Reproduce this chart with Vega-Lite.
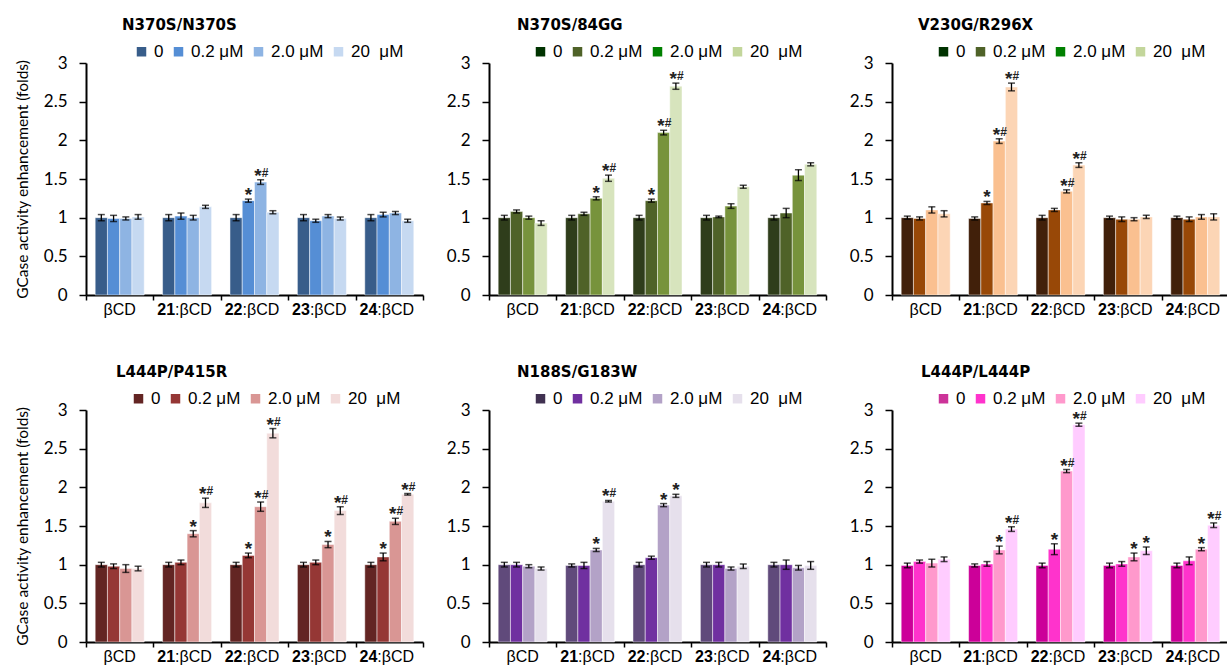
{
"$schema": "https://vega.github.io/schema/vega-lite/v6.json",
"background": "white",
"padding": {"left": 15, "top": 18, "right": 0, "bottom": 0},
"datasets": {
"bars": [
{"p":"N370S/N370S","c":"βCD","k":"0","v":1.00,"lo":0.96,"hi":1.04},
{"p":"N370S/N370S","c":"βCD","k":"0.2","v":0.99,"lo":0.95,"hi":1.03},
{"p":"N370S/N370S","c":"βCD","k":"2.0","v":0.99,"lo":0.97,"hi":1.01},
{"p":"N370S/N370S","c":"βCD","k":"20","v":1.01,"lo":0.98,"hi":1.04},
{"p":"N370S/N370S","c":"21","k":"0","v":1.00,"lo":0.96,"hi":1.04},
{"p":"N370S/N370S","c":"21","k":"0.2","v":1.02,"lo":0.98,"hi":1.06},
{"p":"N370S/N370S","c":"21","k":"2.0","v":1.00,"lo":0.97,"hi":1.03},
{"p":"N370S/N370S","c":"21","k":"20","v":1.14,"lo":1.12,"hi":1.16},
{"p":"N370S/N370S","c":"22","k":"0","v":1.00,"lo":0.96,"hi":1.04},
{"p":"N370S/N370S","c":"22","k":"0.2","v":1.22,"lo":1.20,"hi":1.24,"a":"*"},
{"p":"N370S/N370S","c":"22","k":"2.0","v":1.46,"lo":1.43,"hi":1.49,"a":"*","h":"#"},
{"p":"N370S/N370S","c":"22","k":"20","v":1.07,"lo":1.05,"hi":1.09},
{"p":"N370S/N370S","c":"23","k":"0","v":1.00,"lo":0.96,"hi":1.04},
{"p":"N370S/N370S","c":"23","k":"0.2","v":0.96,"lo":0.94,"hi":0.98},
{"p":"N370S/N370S","c":"23","k":"2.0","v":1.02,"lo":1.00,"hi":1.04},
{"p":"N370S/N370S","c":"23","k":"20","v":0.99,"lo":0.97,"hi":1.01},
{"p":"N370S/N370S","c":"24","k":"0","v":1.00,"lo":0.96,"hi":1.04},
{"p":"N370S/N370S","c":"24","k":"0.2","v":1.04,"lo":1.01,"hi":1.07},
{"p":"N370S/N370S","c":"24","k":"2.0","v":1.06,"lo":1.04,"hi":1.08},
{"p":"N370S/N370S","c":"24","k":"20","v":0.96,"lo":0.94,"hi":0.98},

{"p":"N370S/84GG","c":"βCD","k":"0","v":1.00,"lo":0.97,"hi":1.03},
{"p":"N370S/84GG","c":"βCD","k":"0.2","v":1.08,"lo":1.06,"hi":1.10},
{"p":"N370S/84GG","c":"βCD","k":"2.0","v":1.00,"lo":0.98,"hi":1.02},
{"p":"N370S/84GG","c":"βCD","k":"20","v":0.93,"lo":0.90,"hi":0.96},
{"p":"N370S/84GG","c":"21","k":"0","v":1.00,"lo":0.97,"hi":1.03},
{"p":"N370S/84GG","c":"21","k":"0.2","v":1.05,"lo":1.03,"hi":1.07},
{"p":"N370S/84GG","c":"21","k":"2.0","v":1.25,"lo":1.23,"hi":1.27,"a":"*"},
{"p":"N370S/84GG","c":"21","k":"20","v":1.51,"lo":1.47,"hi":1.55,"a":"*","h":"#"},
{"p":"N370S/84GG","c":"22","k":"0","v":1.00,"lo":0.97,"hi":1.03},
{"p":"N370S/84GG","c":"22","k":"0.2","v":1.22,"lo":1.20,"hi":1.24,"a":"*"},
{"p":"N370S/84GG","c":"22","k":"2.0","v":2.10,"lo":2.07,"hi":2.13,"a":"*","h":"#"},
{"p":"N370S/84GG","c":"22","k":"20","v":2.70,"lo":2.66,"hi":2.74,"a":"*","h":"#"},
{"p":"N370S/84GG","c":"23","k":"0","v":1.00,"lo":0.97,"hi":1.03},
{"p":"N370S/84GG","c":"23","k":"0.2","v":1.01,"lo":1.00,"hi":1.02},
{"p":"N370S/84GG","c":"23","k":"2.0","v":1.15,"lo":1.12,"hi":1.18},
{"p":"N370S/84GG","c":"23","k":"20","v":1.40,"lo":1.38,"hi":1.42},
{"p":"N370S/84GG","c":"24","k":"0","v":1.00,"lo":0.97,"hi":1.03},
{"p":"N370S/84GG","c":"24","k":"0.2","v":1.06,"lo":1.00,"hi":1.12},
{"p":"N370S/84GG","c":"24","k":"2.0","v":1.55,"lo":1.48,"hi":1.62},
{"p":"N370S/84GG","c":"24","k":"20","v":1.69,"lo":1.67,"hi":1.71},

{"p":"V230G/R296X","c":"βCD","k":"0","v":1.00,"lo":0.98,"hi":1.02},
{"p":"V230G/R296X","c":"βCD","k":"0.2","v":0.99,"lo":0.97,"hi":1.01},
{"p":"V230G/R296X","c":"βCD","k":"2.0","v":1.10,"lo":1.06,"hi":1.14},
{"p":"V230G/R296X","c":"βCD","k":"20","v":1.05,"lo":1.01,"hi":1.09},
{"p":"V230G/R296X","c":"21","k":"0","v":0.99,"lo":0.97,"hi":1.01},
{"p":"V230G/R296X","c":"21","k":"0.2","v":1.19,"lo":1.17,"hi":1.21,"a":"*"},
{"p":"V230G/R296X","c":"21","k":"2.0","v":1.99,"lo":1.96,"hi":2.02,"a":"*","h":"#"},
{"p":"V230G/R296X","c":"21","k":"20","v":2.69,"lo":2.64,"hi":2.74,"a":"*","h":"#"},
{"p":"V230G/R296X","c":"22","k":"0","v":1.00,"lo":0.97,"hi":1.03},
{"p":"V230G/R296X","c":"22","k":"0.2","v":1.10,"lo":1.08,"hi":1.12},
{"p":"V230G/R296X","c":"22","k":"2.0","v":1.34,"lo":1.32,"hi":1.36,"a":"*","h":"#"},
{"p":"V230G/R296X","c":"22","k":"20","v":1.68,"lo":1.65,"hi":1.71,"a":"*","h":"#"},
{"p":"V230G/R296X","c":"23","k":"0","v":1.00,"lo":0.98,"hi":1.02},
{"p":"V230G/R296X","c":"23","k":"0.2","v":0.98,"lo":0.95,"hi":1.01},
{"p":"V230G/R296X","c":"23","k":"2.0","v":0.98,"lo":0.96,"hi":1.00},
{"p":"V230G/R296X","c":"23","k":"20","v":1.01,"lo":0.99,"hi":1.03},
{"p":"V230G/R296X","c":"24","k":"0","v":1.00,"lo":0.98,"hi":1.02},
{"p":"V230G/R296X","c":"24","k":"0.2","v":0.98,"lo":0.95,"hi":1.01},
{"p":"V230G/R296X","c":"24","k":"2.0","v":1.01,"lo":0.98,"hi":1.04},
{"p":"V230G/R296X","c":"24","k":"20","v":1.01,"lo":0.97,"hi":1.05},

{"p":"L444P/P415R","c":"βCD","k":"0","v":1.00,"lo":0.97,"hi":1.03},
{"p":"L444P/P415R","c":"βCD","k":"0.2","v":0.98,"lo":0.95,"hi":1.01},
{"p":"L444P/P415R","c":"βCD","k":"2.0","v":0.95,"lo":0.90,"hi":1.00},
{"p":"L444P/P415R","c":"βCD","k":"20","v":0.95,"lo":0.92,"hi":0.98},
{"p":"L444P/P415R","c":"21","k":"0","v":1.00,"lo":0.97,"hi":1.03},
{"p":"L444P/P415R","c":"21","k":"0.2","v":1.03,"lo":1.00,"hi":1.06},
{"p":"L444P/P415R","c":"21","k":"2.0","v":1.40,"lo":1.36,"hi":1.44,"a":"*"},
{"p":"L444P/P415R","c":"21","k":"20","v":1.80,"lo":1.74,"hi":1.86,"a":"*","h":"#"},
{"p":"L444P/P415R","c":"22","k":"0","v":1.00,"lo":0.97,"hi":1.03},
{"p":"L444P/P415R","c":"22","k":"0.2","v":1.12,"lo":1.09,"hi":1.15,"a":"*"},
{"p":"L444P/P415R","c":"22","k":"2.0","v":1.75,"lo":1.69,"hi":1.81,"a":"*","h":"#"},
{"p":"L444P/P415R","c":"22","k":"20","v":2.70,"lo":2.64,"hi":2.76,"a":"*","h":"#"},
{"p":"L444P/P415R","c":"23","k":"0","v":1.00,"lo":0.97,"hi":1.03},
{"p":"L444P/P415R","c":"23","k":"0.2","v":1.03,"lo":1.00,"hi":1.06},
{"p":"L444P/P415R","c":"23","k":"2.0","v":1.26,"lo":1.22,"hi":1.30,"a":"*"},
{"p":"L444P/P415R","c":"23","k":"20","v":1.70,"lo":1.65,"hi":1.75,"a":"*","h":"#"},
{"p":"L444P/P415R","c":"24","k":"0","v":1.00,"lo":0.97,"hi":1.03},
{"p":"L444P/P415R","c":"24","k":"0.2","v":1.10,"lo":1.05,"hi":1.15,"a":"*"},
{"p":"L444P/P415R","c":"24","k":"2.0","v":1.56,"lo":1.52,"hi":1.60,"a":"*","h":"#"},
{"p":"L444P/P415R","c":"24","k":"20","v":1.91,"lo":1.90,"hi":1.92,"a":"*","h":"#"},

{"p":"N188S/G183W","c":"βCD","k":"0","v":1.00,"lo":0.97,"hi":1.03},
{"p":"N188S/G183W","c":"βCD","k":"0.2","v":1.00,"lo":0.97,"hi":1.03},
{"p":"N188S/G183W","c":"βCD","k":"2.0","v":0.98,"lo":0.96,"hi":1.00},
{"p":"N188S/G183W","c":"βCD","k":"20","v":0.95,"lo":0.93,"hi":0.97},
{"p":"N188S/G183W","c":"21","k":"0","v":0.99,"lo":0.97,"hi":1.01},
{"p":"N188S/G183W","c":"21","k":"0.2","v":0.99,"lo":0.95,"hi":1.03},
{"p":"N188S/G183W","c":"21","k":"2.0","v":1.19,"lo":1.17,"hi":1.21,"a":"*"},
{"p":"N188S/G183W","c":"21","k":"20","v":1.82,"lo":1.81,"hi":1.83,"a":"*","h":"#"},
{"p":"N188S/G183W","c":"22","k":"0","v":1.00,"lo":0.97,"hi":1.03},
{"p":"N188S/G183W","c":"22","k":"0.2","v":1.09,"lo":1.07,"hi":1.11},
{"p":"N188S/G183W","c":"22","k":"2.0","v":1.77,"lo":1.75,"hi":1.79,"a":"*"},
{"p":"N188S/G183W","c":"22","k":"20","v":1.89,"lo":1.87,"hi":1.91,"a":"*"},
{"p":"N188S/G183W","c":"23","k":"0","v":1.00,"lo":0.97,"hi":1.03},
{"p":"N188S/G183W","c":"23","k":"0.2","v":1.00,"lo":0.97,"hi":1.03},
{"p":"N188S/G183W","c":"23","k":"2.0","v":0.95,"lo":0.93,"hi":0.97},
{"p":"N188S/G183W","c":"23","k":"20","v":0.98,"lo":0.95,"hi":1.01},
{"p":"N188S/G183W","c":"24","k":"0","v":1.00,"lo":0.97,"hi":1.03},
{"p":"N188S/G183W","c":"24","k":"0.2","v":1.00,"lo":0.94,"hi":1.06},
{"p":"N188S/G183W","c":"24","k":"2.0","v":0.96,"lo":0.93,"hi":0.99},
{"p":"N188S/G183W","c":"24","k":"20","v":0.99,"lo":0.94,"hi":1.04},

{"p":"L444P/L444P","c":"βCD","k":"0","v":0.99,"lo":0.96,"hi":1.02},
{"p":"L444P/L444P","c":"βCD","k":"0.2","v":1.04,"lo":1.02,"hi":1.06},
{"p":"L444P/L444P","c":"βCD","k":"2.0","v":1.02,"lo":0.97,"hi":1.07},
{"p":"L444P/L444P","c":"βCD","k":"20","v":1.07,"lo":1.04,"hi":1.10},
{"p":"L444P/L444P","c":"21","k":"0","v":0.99,"lo":0.97,"hi":1.01},
{"p":"L444P/L444P","c":"21","k":"0.2","v":1.01,"lo":0.98,"hi":1.04},
{"p":"L444P/L444P","c":"21","k":"2.0","v":1.19,"lo":1.14,"hi":1.24,"a":"*"},
{"p":"L444P/L444P","c":"21","k":"20","v":1.46,"lo":1.43,"hi":1.49,"a":"*","h":"#"},
{"p":"L444P/L444P","c":"22","k":"0","v":0.99,"lo":0.96,"hi":1.02},
{"p":"L444P/L444P","c":"22","k":"0.2","v":1.20,"lo":1.13,"hi":1.27,"a":"*"},
{"p":"L444P/L444P","c":"22","k":"2.0","v":2.21,"lo":2.19,"hi":2.23,"a":"*","h":"#"},
{"p":"L444P/L444P","c":"22","k":"20","v":2.81,"lo":2.79,"hi":2.83,"a":"*","h":"#"},
{"p":"L444P/L444P","c":"23","k":"0","v":0.99,"lo":0.96,"hi":1.02},
{"p":"L444P/L444P","c":"23","k":"0.2","v":1.01,"lo":0.98,"hi":1.04},
{"p":"L444P/L444P","c":"23","k":"2.0","v":1.10,"lo":1.05,"hi":1.15,"a":"*"},
{"p":"L444P/L444P","c":"23","k":"20","v":1.18,"lo":1.13,"hi":1.23,"a":"*"},
{"p":"L444P/L444P","c":"24","k":"0","v":0.99,"lo":0.96,"hi":1.02},
{"p":"L444P/L444P","c":"24","k":"0.2","v":1.05,"lo":1.00,"hi":1.10},
{"p":"L444P/L444P","c":"24","k":"2.0","v":1.20,"lo":1.18,"hi":1.22,"a":"*"},
{"p":"L444P/L444P","c":"24","k":"20","v":1.51,"lo":1.48,"hi":1.54,"a":"*","h":"#"}
],
"labs": [
{"c":"βCD","n":"","t":"βCD","z":0},
{"c":"21","n":"21","t":":βCD","z":0},
{"c":"22","n":"22","t":":βCD","z":0},
{"c":"23","n":"23","t":":βCD","z":0},
{"c":"24","n":"24","t":":βCD","z":0}
]
},
"data": {"name": "bars"},
"columns": 3,
"align": "each",
"spacing": {"row": 47, "column": 22},
"resolve": {"scale": {"color": "independent", "fill": "independent"}, "legend": {"color": "independent", "fill": "independent"}},
"concat": [
{
"title": {"text": "N370S/N370S", "dx": 36},
"width": 337, "height": 232,
"transform": [{"filter": "datum.p == 'N370S/N370S'"}],
"encoding": {"x": {"field": "c", "type": "nominal", "sort": ["βCD","21","22","23","24"], "scale": {"paddingInner": 0, "paddingOuter": 0}, "axis": {"labels": false, "title": null, "tickBand": "extent"}}},
"layer": [
{"mark": {"type": "bar", "stroke": "#ffffff", "strokeOpacity": 0.6, "strokeWidth": 0.8},
 "encoding": {"xOffset": {"field": "k", "type": "nominal", "sort": ["0","0.2","2.0","20"], "scale": {"paddingInner": 0, "paddingOuter": 0.75}},
  "y": {"field": "v", "type": "quantitative", "title": "GCase activity enhancement (folds)", "scale": {"domain": [0, 3]}, "axis": {"values": [0,0.5,1,1.5,2,2.5,3], "format": "~g", "labelOverlap": false}},
  "fill": {"field": "k", "type": "nominal", "scale": {"range": ["#385d8a","#558ed5","#8eb4e3","#c6d9f1"]}, "legend": null}}},
{"mark": {"type": "square", "opacity": 0},
 "encoding": {"xOffset": {"field": "k", "type": "nominal", "sort": ["0","0.2","2.0","20"]},
  "y": {"field": "v", "type": "quantitative", "title": "GCase activity enhancement (folds)", "axis": {"values": [0,0.5,1,1.5,2,2.5,3], "format": "~g", "labelOverlap": false}},
  "color": {"field": "k", "type": "nominal", "scale": {"domain": ["0","0.2","2.0","20"], "range": ["#385d8a","#558ed5","#8eb4e3","#c6d9f1"]},
   "legend": {"title": null, "orient": "none", "legendX": 47, "legendY": -20, "direction": "horizontal", "labelExpr": "datum.label == '0' ? '0' : datum.label == '20' ? '20\u00a0 μM' : datum.label + ' μM'"}}}},
{"mark": {"type": "rule", "color": "#000", "strokeWidth": 1.3},
 "encoding": {"xOffset": {"field": "k", "type": "nominal", "sort": ["0","0.2","2.0","20"]}, "y": {"field": "lo", "type": "quantitative", "title": "GCase activity enhancement (folds)", "axis": {"values": [0,0.5,1,1.5,2,2.5,3], "format": "~g", "labelOverlap": false}}, "y2": {"field": "hi"}}},
{"mark": {"type": "tick", "color": "#000", "size": 7, "thickness": 1.5},
 "encoding": {"xOffset": {"field": "k", "type": "nominal", "sort": ["0","0.2","2.0","20"]}, "y": {"field": "lo", "type": "quantitative", "title": "GCase activity enhancement (folds)", "axis": {"values": [0,0.5,1,1.5,2,2.5,3], "format": "~g", "labelOverlap": false}}}},
{"mark": {"type": "tick", "color": "#000", "size": 7, "thickness": 1.5},
 "encoding": {"xOffset": {"field": "k", "type": "nominal", "sort": ["0","0.2","2.0","20"]}, "y": {"field": "hi", "type": "quantitative", "title": "GCase activity enhancement (folds)", "axis": {"values": [0,0.5,1,1.5,2,2.5,3], "format": "~g", "labelOverlap": false}}}},
{"transform": [{"filter": "datum.a && !datum.h"}],
 "mark": {"type": "text", "font": "Liberation Sans", "fontWeight": "bold", "fontSize": 19, "baseline": "alphabetic", "dy": 2, "color": "#222"},
 "encoding": {"xOffset": {"field": "k", "type": "nominal", "sort": ["0","0.2","2.0","20"]}, "y": {"field": "hi", "type": "quantitative", "title": "GCase activity enhancement (folds)", "axis": {"values": [0,0.5,1,1.5,2,2.5,3], "format": "~g", "labelOverlap": false}}, "text": {"field": "a"}}},
{"transform": [{"filter": "datum.h"}],
 "mark": {"type": "text", "font": "Liberation Sans", "fontWeight": "bold", "fontSize": 19, "baseline": "alphabetic", "align": "right", "dx": 1, "dy": 2, "color": "#222"},
 "encoding": {"xOffset": {"field": "k", "type": "nominal", "sort": ["0","0.2","2.0","20"]}, "y": {"field": "hi", "type": "quantitative", "title": "GCase activity enhancement (folds)", "axis": {"values": [0,0.5,1,1.5,2,2.5,3], "format": "~g", "labelOverlap": false}}, "text": {"field": "a"}}},
{"transform": [{"filter": "datum.h"}],
 "mark": {"type": "text", "font": "Liberation Sans", "fontWeight": "bold", "fontSize": 12, "baseline": "alphabetic", "align": "left", "dx": 1, "dy": -3, "color": "#222"},
 "encoding": {"xOffset": {"field": "k", "type": "nominal", "sort": ["0","0.2","2.0","20"]}, "y": {"field": "hi", "type": "quantitative", "title": "GCase activity enhancement (folds)", "axis": {"values": [0,0.5,1,1.5,2,2.5,3], "format": "~g", "labelOverlap": false}}, "text": {"field": "h"}}},
{"data": {"name": "labs"}, "transform": [{"filter": "datum.n == ''"}],
 "mark": {"type": "text", "font": "Liberation Sans", "fontSize": 16, "baseline": "middle", "dy": 15, "color": "#000"},
 "encoding": {"y": {"field": "z", "type": "quantitative", "title": "GCase activity enhancement (folds)", "axis": {"values": [0,0.5,1,1.5,2,2.5,3], "format": "~g", "labelOverlap": false}}, "text": {"field": "t"}}},
{"data": {"name": "labs"}, "transform": [{"filter": "datum.n != ''"}],
 "mark": {"type": "text", "font": "Liberation Sans", "fontSize": 16, "fontWeight": "bold", "align": "right", "baseline": "middle", "dx": -12, "dy": 15, "color": "#000"},
 "encoding": {"y": {"field": "z", "type": "quantitative", "title": "GCase activity enhancement (folds)", "axis": {"values": [0,0.5,1,1.5,2,2.5,3], "format": "~g", "labelOverlap": false}}, "text": {"field": "n"}}},
{"data": {"name": "labs"}, "transform": [{"filter": "datum.n != ''"}],
 "mark": {"type": "text", "font": "Liberation Sans", "fontSize": 16, "align": "left", "baseline": "middle", "dx": -12, "dy": 15, "color": "#000"},
 "encoding": {"y": {"field": "z", "type": "quantitative", "title": "GCase activity enhancement (folds)", "axis": {"values": [0,0.5,1,1.5,2,2.5,3], "format": "~g", "labelOverlap": false}}, "text": {"field": "t"}}}
]
},
{
"title": {"text": "N370S/84GG", "dx": 28},
"width": 337, "height": 232,
"transform": [{"filter": "datum.p == 'N370S/84GG'"}],
"encoding": {"x": {"field": "c", "type": "nominal", "sort": ["βCD","21","22","23","24"], "scale": {"paddingInner": 0, "paddingOuter": 0}, "axis": {"labels": false, "title": null, "tickBand": "extent"}}},
"layer": [
{"mark": {"type": "bar", "stroke": "#ffffff", "strokeOpacity": 0.6, "strokeWidth": 0.8},
 "encoding": {"xOffset": {"field": "k", "type": "nominal", "sort": ["0","0.2","2.0","20"], "scale": {"paddingInner": 0, "paddingOuter": 0.75}},
  "y": {"field": "v", "type": "quantitative", "title": null, "scale": {"domain": [0, 3]}, "axis": {"values": [0,0.5,1,1.5,2,2.5,3], "format": "~g", "labelOverlap": false}},
  "fill": {"field": "k", "type": "nominal", "scale": {"range": ["#2f3d1b","#4f6228","#77933c","#d7e4bd"]}, "legend": null}}},
{"mark": {"type": "square", "opacity": 0},
 "encoding": {"xOffset": {"field": "k", "type": "nominal", "sort": ["0","0.2","2.0","20"]},
  "y": {"field": "v", "type": "quantitative", "title": null, "axis": {"values": [0,0.5,1,1.5,2,2.5,3], "format": "~g", "labelOverlap": false}},
  "color": {"field": "k", "type": "nominal", "scale": {"domain": ["0","0.2","2.0","20"], "range": ["#003300","#4f6228","#008000","#c3d69b"]},
   "legend": {"title": null, "orient": "none", "legendX": 43, "legendY": -20, "direction": "horizontal", "labelExpr": "datum.label == '0' ? '0' : datum.label == '20' ? '20\u00a0 μM' : datum.label + ' μM'"}}}},
{"mark": {"type": "rule", "color": "#000", "strokeWidth": 1.3},
 "encoding": {"xOffset": {"field": "k", "type": "nominal", "sort": ["0","0.2","2.0","20"]}, "y": {"field": "lo", "type": "quantitative", "title": null, "axis": {"values": [0,0.5,1,1.5,2,2.5,3], "format": "~g", "labelOverlap": false}}, "y2": {"field": "hi"}}},
{"mark": {"type": "tick", "color": "#000", "size": 7, "thickness": 1.5},
 "encoding": {"xOffset": {"field": "k", "type": "nominal", "sort": ["0","0.2","2.0","20"]}, "y": {"field": "lo", "type": "quantitative", "title": null, "axis": {"values": [0,0.5,1,1.5,2,2.5,3], "format": "~g", "labelOverlap": false}}}},
{"mark": {"type": "tick", "color": "#000", "size": 7, "thickness": 1.5},
 "encoding": {"xOffset": {"field": "k", "type": "nominal", "sort": ["0","0.2","2.0","20"]}, "y": {"field": "hi", "type": "quantitative", "title": null, "axis": {"values": [0,0.5,1,1.5,2,2.5,3], "format": "~g", "labelOverlap": false}}}},
{"transform": [{"filter": "datum.a && !datum.h"}],
 "mark": {"type": "text", "font": "Liberation Sans", "fontWeight": "bold", "fontSize": 19, "baseline": "alphabetic", "dy": 2, "color": "#222"},
 "encoding": {"xOffset": {"field": "k", "type": "nominal", "sort": ["0","0.2","2.0","20"]}, "y": {"field": "hi", "type": "quantitative", "title": null, "axis": {"values": [0,0.5,1,1.5,2,2.5,3], "format": "~g", "labelOverlap": false}}, "text": {"field": "a"}}},
{"transform": [{"filter": "datum.h"}],
 "mark": {"type": "text", "font": "Liberation Sans", "fontWeight": "bold", "fontSize": 19, "baseline": "alphabetic", "align": "right", "dx": 1, "dy": 2, "color": "#222"},
 "encoding": {"xOffset": {"field": "k", "type": "nominal", "sort": ["0","0.2","2.0","20"]}, "y": {"field": "hi", "type": "quantitative", "title": null, "axis": {"values": [0,0.5,1,1.5,2,2.5,3], "format": "~g", "labelOverlap": false}}, "text": {"field": "a"}}},
{"transform": [{"filter": "datum.h"}],
 "mark": {"type": "text", "font": "Liberation Sans", "fontWeight": "bold", "fontSize": 12, "baseline": "alphabetic", "align": "left", "dx": 1, "dy": -3, "color": "#222"},
 "encoding": {"xOffset": {"field": "k", "type": "nominal", "sort": ["0","0.2","2.0","20"]}, "y": {"field": "hi", "type": "quantitative", "title": null, "axis": {"values": [0,0.5,1,1.5,2,2.5,3], "format": "~g", "labelOverlap": false}}, "text": {"field": "h"}}},
{"data": {"name": "labs"}, "transform": [{"filter": "datum.n == ''"}],
 "mark": {"type": "text", "font": "Liberation Sans", "fontSize": 16, "baseline": "middle", "dy": 15, "color": "#000"},
 "encoding": {"y": {"field": "z", "type": "quantitative", "title": null, "axis": {"values": [0,0.5,1,1.5,2,2.5,3], "format": "~g", "labelOverlap": false}}, "text": {"field": "t"}}},
{"data": {"name": "labs"}, "transform": [{"filter": "datum.n != ''"}],
 "mark": {"type": "text", "font": "Liberation Sans", "fontSize": 16, "fontWeight": "bold", "align": "right", "baseline": "middle", "dx": -12, "dy": 15, "color": "#000"},
 "encoding": {"y": {"field": "z", "type": "quantitative", "title": null, "axis": {"values": [0,0.5,1,1.5,2,2.5,3], "format": "~g", "labelOverlap": false}}, "text": {"field": "n"}}},
{"data": {"name": "labs"}, "transform": [{"filter": "datum.n != ''"}],
 "mark": {"type": "text", "font": "Liberation Sans", "fontSize": 16, "align": "left", "baseline": "middle", "dx": -12, "dy": 15, "color": "#000"},
 "encoding": {"y": {"field": "z", "type": "quantitative", "title": null, "axis": {"values": [0,0.5,1,1.5,2,2.5,3], "format": "~g", "labelOverlap": false}}, "text": {"field": "t"}}}
]
},
{
"title": {"text": "V230G/R296X", "dx": 26},
"width": 337, "height": 232,
"transform": [{"filter": "datum.p == 'V230G/R296X'"}],
"encoding": {"x": {"field": "c", "type": "nominal", "sort": ["βCD","21","22","23","24"], "scale": {"paddingInner": 0, "paddingOuter": 0}, "axis": {"labels": false, "title": null, "tickBand": "extent"}}},
"layer": [
{"mark": {"type": "bar", "stroke": "#ffffff", "strokeOpacity": 0.6, "strokeWidth": 0.8},
 "encoding": {"xOffset": {"field": "k", "type": "nominal", "sort": ["0","0.2","2.0","20"], "scale": {"paddingInner": 0, "paddingOuter": 0.75}},
  "y": {"field": "v", "type": "quantitative", "title": null, "scale": {"domain": [0, 3]}, "axis": {"values": [0,0.5,1,1.5,2,2.5,3], "format": "~g", "labelOverlap": false}},
  "fill": {"field": "k", "type": "nominal", "scale": {"range": ["#41200a","#984807","#fac090","#fcd5b5"]}, "legend": null}}},
{"mark": {"type": "square", "opacity": 0},
 "encoding": {"xOffset": {"field": "k", "type": "nominal", "sort": ["0","0.2","2.0","20"]},
  "y": {"field": "v", "type": "quantitative", "title": null, "axis": {"values": [0,0.5,1,1.5,2,2.5,3], "format": "~g", "labelOverlap": false}},
  "color": {"field": "k", "type": "nominal", "scale": {"domain": ["0","0.2","2.0","20"], "range": ["#003300","#4f6228","#008000","#c3d69b"]},
   "legend": {"title": null, "orient": "none", "legendX": 43, "legendY": -20, "direction": "horizontal", "labelExpr": "datum.label == '0' ? '0' : datum.label == '20' ? '20\u00a0 μM' : datum.label + ' μM'"}}}},
{"mark": {"type": "rule", "color": "#000", "strokeWidth": 1.3},
 "encoding": {"xOffset": {"field": "k", "type": "nominal", "sort": ["0","0.2","2.0","20"]}, "y": {"field": "lo", "type": "quantitative", "title": null, "axis": {"values": [0,0.5,1,1.5,2,2.5,3], "format": "~g", "labelOverlap": false}}, "y2": {"field": "hi"}}},
{"mark": {"type": "tick", "color": "#000", "size": 7, "thickness": 1.5},
 "encoding": {"xOffset": {"field": "k", "type": "nominal", "sort": ["0","0.2","2.0","20"]}, "y": {"field": "lo", "type": "quantitative", "title": null, "axis": {"values": [0,0.5,1,1.5,2,2.5,3], "format": "~g", "labelOverlap": false}}}},
{"mark": {"type": "tick", "color": "#000", "size": 7, "thickness": 1.5},
 "encoding": {"xOffset": {"field": "k", "type": "nominal", "sort": ["0","0.2","2.0","20"]}, "y": {"field": "hi", "type": "quantitative", "title": null, "axis": {"values": [0,0.5,1,1.5,2,2.5,3], "format": "~g", "labelOverlap": false}}}},
{"transform": [{"filter": "datum.a && !datum.h"}],
 "mark": {"type": "text", "font": "Liberation Sans", "fontWeight": "bold", "fontSize": 19, "baseline": "alphabetic", "dy": 2, "color": "#222"},
 "encoding": {"xOffset": {"field": "k", "type": "nominal", "sort": ["0","0.2","2.0","20"]}, "y": {"field": "hi", "type": "quantitative", "title": null, "axis": {"values": [0,0.5,1,1.5,2,2.5,3], "format": "~g", "labelOverlap": false}}, "text": {"field": "a"}}},
{"transform": [{"filter": "datum.h"}],
 "mark": {"type": "text", "font": "Liberation Sans", "fontWeight": "bold", "fontSize": 19, "baseline": "alphabetic", "align": "right", "dx": 1, "dy": 2, "color": "#222"},
 "encoding": {"xOffset": {"field": "k", "type": "nominal", "sort": ["0","0.2","2.0","20"]}, "y": {"field": "hi", "type": "quantitative", "title": null, "axis": {"values": [0,0.5,1,1.5,2,2.5,3], "format": "~g", "labelOverlap": false}}, "text": {"field": "a"}}},
{"transform": [{"filter": "datum.h"}],
 "mark": {"type": "text", "font": "Liberation Sans", "fontWeight": "bold", "fontSize": 12, "baseline": "alphabetic", "align": "left", "dx": 1, "dy": -3, "color": "#222"},
 "encoding": {"xOffset": {"field": "k", "type": "nominal", "sort": ["0","0.2","2.0","20"]}, "y": {"field": "hi", "type": "quantitative", "title": null, "axis": {"values": [0,0.5,1,1.5,2,2.5,3], "format": "~g", "labelOverlap": false}}, "text": {"field": "h"}}},
{"data": {"name": "labs"}, "transform": [{"filter": "datum.n == ''"}],
 "mark": {"type": "text", "font": "Liberation Sans", "fontSize": 16, "baseline": "middle", "dy": 15, "color": "#000"},
 "encoding": {"y": {"field": "z", "type": "quantitative", "title": null, "axis": {"values": [0,0.5,1,1.5,2,2.5,3], "format": "~g", "labelOverlap": false}}, "text": {"field": "t"}}},
{"data": {"name": "labs"}, "transform": [{"filter": "datum.n != ''"}],
 "mark": {"type": "text", "font": "Liberation Sans", "fontSize": 16, "fontWeight": "bold", "align": "right", "baseline": "middle", "dx": -12, "dy": 15, "color": "#000"},
 "encoding": {"y": {"field": "z", "type": "quantitative", "title": null, "axis": {"values": [0,0.5,1,1.5,2,2.5,3], "format": "~g", "labelOverlap": false}}, "text": {"field": "n"}}},
{"data": {"name": "labs"}, "transform": [{"filter": "datum.n != ''"}],
 "mark": {"type": "text", "font": "Liberation Sans", "fontSize": 16, "align": "left", "baseline": "middle", "dx": -12, "dy": 15, "color": "#000"},
 "encoding": {"y": {"field": "z", "type": "quantitative", "title": null, "axis": {"values": [0,0.5,1,1.5,2,2.5,3], "format": "~g", "labelOverlap": false}}, "text": {"field": "t"}}}
]
},
{
"title": {"text": "L444P/P415R", "dx": 30},
"width": 337, "height": 232,
"transform": [{"filter": "datum.p == 'L444P/P415R'"}],
"encoding": {"x": {"field": "c", "type": "nominal", "sort": ["βCD","21","22","23","24"], "scale": {"paddingInner": 0, "paddingOuter": 0}, "axis": {"labels": false, "title": null, "tickBand": "extent"}}},
"layer": [
{"mark": {"type": "bar", "stroke": "#ffffff", "strokeOpacity": 0.6, "strokeWidth": 0.8},
 "encoding": {"xOffset": {"field": "k", "type": "nominal", "sort": ["0","0.2","2.0","20"], "scale": {"paddingInner": 0, "paddingOuter": 0.75}},
  "y": {"field": "v", "type": "quantitative", "title": "GCase activity enhancement (folds)", "scale": {"domain": [0, 3]}, "axis": {"values": [0,0.5,1,1.5,2,2.5,3], "format": "~g", "labelOverlap": false}},
  "fill": {"field": "k", "type": "nominal", "scale": {"range": ["#632523","#953735","#d99694","#f2dcdb"]}, "legend": null}}},
{"mark": {"type": "square", "opacity": 0},
 "encoding": {"xOffset": {"field": "k", "type": "nominal", "sort": ["0","0.2","2.0","20"]},
  "y": {"field": "v", "type": "quantitative", "title": "GCase activity enhancement (folds)", "axis": {"values": [0,0.5,1,1.5,2,2.5,3], "format": "~g", "labelOverlap": false}},
  "color": {"field": "k", "type": "nominal", "scale": {"domain": ["0","0.2","2.0","20"], "range": ["#632523","#953735","#d99694","#f2dcdb"]},
   "legend": {"title": null, "orient": "none", "legendX": 44, "legendY": -20, "direction": "horizontal", "labelExpr": "datum.label == '0' ? '0' : datum.label == '20' ? '20\u00a0 μM' : datum.label + ' μM'"}}}},
{"mark": {"type": "rule", "color": "#000", "strokeWidth": 1.3},
 "encoding": {"xOffset": {"field": "k", "type": "nominal", "sort": ["0","0.2","2.0","20"]}, "y": {"field": "lo", "type": "quantitative", "title": "GCase activity enhancement (folds)", "axis": {"values": [0,0.5,1,1.5,2,2.5,3], "format": "~g", "labelOverlap": false}}, "y2": {"field": "hi"}}},
{"mark": {"type": "tick", "color": "#000", "size": 7, "thickness": 1.5},
 "encoding": {"xOffset": {"field": "k", "type": "nominal", "sort": ["0","0.2","2.0","20"]}, "y": {"field": "lo", "type": "quantitative", "title": "GCase activity enhancement (folds)", "axis": {"values": [0,0.5,1,1.5,2,2.5,3], "format": "~g", "labelOverlap": false}}}},
{"mark": {"type": "tick", "color": "#000", "size": 7, "thickness": 1.5},
 "encoding": {"xOffset": {"field": "k", "type": "nominal", "sort": ["0","0.2","2.0","20"]}, "y": {"field": "hi", "type": "quantitative", "title": "GCase activity enhancement (folds)", "axis": {"values": [0,0.5,1,1.5,2,2.5,3], "format": "~g", "labelOverlap": false}}}},
{"transform": [{"filter": "datum.a && !datum.h"}],
 "mark": {"type": "text", "font": "Liberation Sans", "fontWeight": "bold", "fontSize": 19, "baseline": "alphabetic", "dy": 2, "color": "#222"},
 "encoding": {"xOffset": {"field": "k", "type": "nominal", "sort": ["0","0.2","2.0","20"]}, "y": {"field": "hi", "type": "quantitative", "title": "GCase activity enhancement (folds)", "axis": {"values": [0,0.5,1,1.5,2,2.5,3], "format": "~g", "labelOverlap": false}}, "text": {"field": "a"}}},
{"transform": [{"filter": "datum.h"}],
 "mark": {"type": "text", "font": "Liberation Sans", "fontWeight": "bold", "fontSize": 19, "baseline": "alphabetic", "align": "right", "dx": 1, "dy": 2, "color": "#222"},
 "encoding": {"xOffset": {"field": "k", "type": "nominal", "sort": ["0","0.2","2.0","20"]}, "y": {"field": "hi", "type": "quantitative", "title": "GCase activity enhancement (folds)", "axis": {"values": [0,0.5,1,1.5,2,2.5,3], "format": "~g", "labelOverlap": false}}, "text": {"field": "a"}}},
{"transform": [{"filter": "datum.h"}],
 "mark": {"type": "text", "font": "Liberation Sans", "fontWeight": "bold", "fontSize": 12, "baseline": "alphabetic", "align": "left", "dx": 1, "dy": -3, "color": "#222"},
 "encoding": {"xOffset": {"field": "k", "type": "nominal", "sort": ["0","0.2","2.0","20"]}, "y": {"field": "hi", "type": "quantitative", "title": "GCase activity enhancement (folds)", "axis": {"values": [0,0.5,1,1.5,2,2.5,3], "format": "~g", "labelOverlap": false}}, "text": {"field": "h"}}},
{"data": {"name": "labs"}, "transform": [{"filter": "datum.n == ''"}],
 "mark": {"type": "text", "font": "Liberation Sans", "fontSize": 16, "baseline": "middle", "dy": 15, "color": "#000"},
 "encoding": {"y": {"field": "z", "type": "quantitative", "title": "GCase activity enhancement (folds)", "axis": {"values": [0,0.5,1,1.5,2,2.5,3], "format": "~g", "labelOverlap": false}}, "text": {"field": "t"}}},
{"data": {"name": "labs"}, "transform": [{"filter": "datum.n != ''"}],
 "mark": {"type": "text", "font": "Liberation Sans", "fontSize": 16, "fontWeight": "bold", "align": "right", "baseline": "middle", "dx": -12, "dy": 15, "color": "#000"},
 "encoding": {"y": {"field": "z", "type": "quantitative", "title": "GCase activity enhancement (folds)", "axis": {"values": [0,0.5,1,1.5,2,2.5,3], "format": "~g", "labelOverlap": false}}, "text": {"field": "n"}}},
{"data": {"name": "labs"}, "transform": [{"filter": "datum.n != ''"}],
 "mark": {"type": "text", "font": "Liberation Sans", "fontSize": 16, "align": "left", "baseline": "middle", "dx": -12, "dy": 15, "color": "#000"},
 "encoding": {"y": {"field": "z", "type": "quantitative", "title": "GCase activity enhancement (folds)", "axis": {"values": [0,0.5,1,1.5,2,2.5,3], "format": "~g", "labelOverlap": false}}, "text": {"field": "t"}}}
]
},
{
"title": {"text": "N188S/G183W", "dx": 28},
"width": 337, "height": 232,
"transform": [{"filter": "datum.p == 'N188S/G183W'"}],
"encoding": {"x": {"field": "c", "type": "nominal", "sort": ["βCD","21","22","23","24"], "scale": {"paddingInner": 0, "paddingOuter": 0}, "axis": {"labels": false, "title": null, "tickBand": "extent"}}},
"layer": [
{"mark": {"type": "bar", "stroke": "#ffffff", "strokeOpacity": 0.6, "strokeWidth": 0.8},
 "encoding": {"xOffset": {"field": "k", "type": "nominal", "sort": ["0","0.2","2.0","20"], "scale": {"paddingInner": 0, "paddingOuter": 0.75}},
  "y": {"field": "v", "type": "quantitative", "title": null, "scale": {"domain": [0, 3]}, "axis": {"values": [0,0.5,1,1.5,2,2.5,3], "format": "~g", "labelOverlap": false}},
  "fill": {"field": "k", "type": "nominal", "scale": {"range": ["#604a7b","#7030a0","#b3a2c7","#e6e0ec"]}, "legend": null}}},
{"mark": {"type": "square", "opacity": 0},
 "encoding": {"xOffset": {"field": "k", "type": "nominal", "sort": ["0","0.2","2.0","20"]},
  "y": {"field": "v", "type": "quantitative", "title": null, "axis": {"values": [0,0.5,1,1.5,2,2.5,3], "format": "~g", "labelOverlap": false}},
  "color": {"field": "k", "type": "nominal", "scale": {"domain": ["0","0.2","2.0","20"], "range": ["#403151","#7030a0","#b3a2c7","#e6e0ec"]},
   "legend": {"title": null, "orient": "none", "legendX": 43, "legendY": -20, "direction": "horizontal", "labelExpr": "datum.label == '0' ? '0' : datum.label == '20' ? '20\u00a0 μM' : datum.label + ' μM'"}}}},
{"mark": {"type": "rule", "color": "#000", "strokeWidth": 1.3},
 "encoding": {"xOffset": {"field": "k", "type": "nominal", "sort": ["0","0.2","2.0","20"]}, "y": {"field": "lo", "type": "quantitative", "title": null, "axis": {"values": [0,0.5,1,1.5,2,2.5,3], "format": "~g", "labelOverlap": false}}, "y2": {"field": "hi"}}},
{"mark": {"type": "tick", "color": "#000", "size": 7, "thickness": 1.5},
 "encoding": {"xOffset": {"field": "k", "type": "nominal", "sort": ["0","0.2","2.0","20"]}, "y": {"field": "lo", "type": "quantitative", "title": null, "axis": {"values": [0,0.5,1,1.5,2,2.5,3], "format": "~g", "labelOverlap": false}}}},
{"mark": {"type": "tick", "color": "#000", "size": 7, "thickness": 1.5},
 "encoding": {"xOffset": {"field": "k", "type": "nominal", "sort": ["0","0.2","2.0","20"]}, "y": {"field": "hi", "type": "quantitative", "title": null, "axis": {"values": [0,0.5,1,1.5,2,2.5,3], "format": "~g", "labelOverlap": false}}}},
{"transform": [{"filter": "datum.a && !datum.h"}],
 "mark": {"type": "text", "font": "Liberation Sans", "fontWeight": "bold", "fontSize": 19, "baseline": "alphabetic", "dy": 2, "color": "#222"},
 "encoding": {"xOffset": {"field": "k", "type": "nominal", "sort": ["0","0.2","2.0","20"]}, "y": {"field": "hi", "type": "quantitative", "title": null, "axis": {"values": [0,0.5,1,1.5,2,2.5,3], "format": "~g", "labelOverlap": false}}, "text": {"field": "a"}}},
{"transform": [{"filter": "datum.h"}],
 "mark": {"type": "text", "font": "Liberation Sans", "fontWeight": "bold", "fontSize": 19, "baseline": "alphabetic", "align": "right", "dx": 1, "dy": 2, "color": "#222"},
 "encoding": {"xOffset": {"field": "k", "type": "nominal", "sort": ["0","0.2","2.0","20"]}, "y": {"field": "hi", "type": "quantitative", "title": null, "axis": {"values": [0,0.5,1,1.5,2,2.5,3], "format": "~g", "labelOverlap": false}}, "text": {"field": "a"}}},
{"transform": [{"filter": "datum.h"}],
 "mark": {"type": "text", "font": "Liberation Sans", "fontWeight": "bold", "fontSize": 12, "baseline": "alphabetic", "align": "left", "dx": 1, "dy": -3, "color": "#222"},
 "encoding": {"xOffset": {"field": "k", "type": "nominal", "sort": ["0","0.2","2.0","20"]}, "y": {"field": "hi", "type": "quantitative", "title": null, "axis": {"values": [0,0.5,1,1.5,2,2.5,3], "format": "~g", "labelOverlap": false}}, "text": {"field": "h"}}},
{"data": {"name": "labs"}, "transform": [{"filter": "datum.n == ''"}],
 "mark": {"type": "text", "font": "Liberation Sans", "fontSize": 16, "baseline": "middle", "dy": 15, "color": "#000"},
 "encoding": {"y": {"field": "z", "type": "quantitative", "title": null, "axis": {"values": [0,0.5,1,1.5,2,2.5,3], "format": "~g", "labelOverlap": false}}, "text": {"field": "t"}}},
{"data": {"name": "labs"}, "transform": [{"filter": "datum.n != ''"}],
 "mark": {"type": "text", "font": "Liberation Sans", "fontSize": 16, "fontWeight": "bold", "align": "right", "baseline": "middle", "dx": -12, "dy": 15, "color": "#000"},
 "encoding": {"y": {"field": "z", "type": "quantitative", "title": null, "axis": {"values": [0,0.5,1,1.5,2,2.5,3], "format": "~g", "labelOverlap": false}}, "text": {"field": "n"}}},
{"data": {"name": "labs"}, "transform": [{"filter": "datum.n != ''"}],
 "mark": {"type": "text", "font": "Liberation Sans", "fontSize": 16, "align": "left", "baseline": "middle", "dx": -12, "dy": 15, "color": "#000"},
 "encoding": {"y": {"field": "z", "type": "quantitative", "title": null, "axis": {"values": [0,0.5,1,1.5,2,2.5,3], "format": "~g", "labelOverlap": false}}, "text": {"field": "t"}}}
]
},
{
"title": {"text": "L444P/L444P", "dx": 29},
"width": 337, "height": 232,
"transform": [{"filter": "datum.p == 'L444P/L444P'"}],
"encoding": {"x": {"field": "c", "type": "nominal", "sort": ["βCD","21","22","23","24"], "scale": {"paddingInner": 0, "paddingOuter": 0}, "axis": {"labels": false, "title": null, "tickBand": "extent"}}},
"layer": [
{"mark": {"type": "bar", "stroke": "#ffffff", "strokeOpacity": 0.6, "strokeWidth": 0.8},
 "encoding": {"xOffset": {"field": "k", "type": "nominal", "sort": ["0","0.2","2.0","20"], "scale": {"paddingInner": 0, "paddingOuter": 0.75}},
  "y": {"field": "v", "type": "quantitative", "title": null, "scale": {"domain": [0, 3]}, "axis": {"values": [0,0.5,1,1.5,2,2.5,3], "format": "~g", "labelOverlap": false}},
  "fill": {"field": "k", "type": "nominal", "scale": {"range": ["#cc0099","#ff33cc","#ff99cc","#ffccff"]}, "legend": null}}},
{"mark": {"type": "square", "opacity": 0},
 "encoding": {"xOffset": {"field": "k", "type": "nominal", "sort": ["0","0.2","2.0","20"]},
  "y": {"field": "v", "type": "quantitative", "title": null, "axis": {"values": [0,0.5,1,1.5,2,2.5,3], "format": "~g", "labelOverlap": false}},
  "color": {"field": "k", "type": "nominal", "scale": {"domain": ["0","0.2","2.0","20"], "range": ["#cc3399","#ff33cc","#ff99cc","#ffccff"]},
   "legend": {"title": null, "orient": "none", "legendX": 43, "legendY": -20, "direction": "horizontal", "labelExpr": "datum.label == '0' ? '0' : datum.label == '20' ? '20\u00a0 μM' : datum.label + ' μM'"}}}},
{"mark": {"type": "rule", "color": "#000", "strokeWidth": 1.3},
 "encoding": {"xOffset": {"field": "k", "type": "nominal", "sort": ["0","0.2","2.0","20"]}, "y": {"field": "lo", "type": "quantitative", "title": null, "axis": {"values": [0,0.5,1,1.5,2,2.5,3], "format": "~g", "labelOverlap": false}}, "y2": {"field": "hi"}}},
{"mark": {"type": "tick", "color": "#000", "size": 7, "thickness": 1.5},
 "encoding": {"xOffset": {"field": "k", "type": "nominal", "sort": ["0","0.2","2.0","20"]}, "y": {"field": "lo", "type": "quantitative", "title": null, "axis": {"values": [0,0.5,1,1.5,2,2.5,3], "format": "~g", "labelOverlap": false}}}},
{"mark": {"type": "tick", "color": "#000", "size": 7, "thickness": 1.5},
 "encoding": {"xOffset": {"field": "k", "type": "nominal", "sort": ["0","0.2","2.0","20"]}, "y": {"field": "hi", "type": "quantitative", "title": null, "axis": {"values": [0,0.5,1,1.5,2,2.5,3], "format": "~g", "labelOverlap": false}}}},
{"transform": [{"filter": "datum.a && !datum.h"}],
 "mark": {"type": "text", "font": "Liberation Sans", "fontWeight": "bold", "fontSize": 19, "baseline": "alphabetic", "dy": 2, "color": "#222"},
 "encoding": {"xOffset": {"field": "k", "type": "nominal", "sort": ["0","0.2","2.0","20"]}, "y": {"field": "hi", "type": "quantitative", "title": null, "axis": {"values": [0,0.5,1,1.5,2,2.5,3], "format": "~g", "labelOverlap": false}}, "text": {"field": "a"}}},
{"transform": [{"filter": "datum.h"}],
 "mark": {"type": "text", "font": "Liberation Sans", "fontWeight": "bold", "fontSize": 19, "baseline": "alphabetic", "align": "right", "dx": 1, "dy": 2, "color": "#222"},
 "encoding": {"xOffset": {"field": "k", "type": "nominal", "sort": ["0","0.2","2.0","20"]}, "y": {"field": "hi", "type": "quantitative", "title": null, "axis": {"values": [0,0.5,1,1.5,2,2.5,3], "format": "~g", "labelOverlap": false}}, "text": {"field": "a"}}},
{"transform": [{"filter": "datum.h"}],
 "mark": {"type": "text", "font": "Liberation Sans", "fontWeight": "bold", "fontSize": 12, "baseline": "alphabetic", "align": "left", "dx": 1, "dy": -3, "color": "#222"},
 "encoding": {"xOffset": {"field": "k", "type": "nominal", "sort": ["0","0.2","2.0","20"]}, "y": {"field": "hi", "type": "quantitative", "title": null, "axis": {"values": [0,0.5,1,1.5,2,2.5,3], "format": "~g", "labelOverlap": false}}, "text": {"field": "h"}}},
{"data": {"name": "labs"}, "transform": [{"filter": "datum.n == ''"}],
 "mark": {"type": "text", "font": "Liberation Sans", "fontSize": 16, "baseline": "middle", "dy": 15, "color": "#000"},
 "encoding": {"y": {"field": "z", "type": "quantitative", "title": null, "axis": {"values": [0,0.5,1,1.5,2,2.5,3], "format": "~g", "labelOverlap": false}}, "text": {"field": "t"}}},
{"data": {"name": "labs"}, "transform": [{"filter": "datum.n != ''"}],
 "mark": {"type": "text", "font": "Liberation Sans", "fontSize": 16, "fontWeight": "bold", "align": "right", "baseline": "middle", "dx": -12, "dy": 15, "color": "#000"},
 "encoding": {"y": {"field": "z", "type": "quantitative", "title": null, "axis": {"values": [0,0.5,1,1.5,2,2.5,3], "format": "~g", "labelOverlap": false}}, "text": {"field": "n"}}},
{"data": {"name": "labs"}, "transform": [{"filter": "datum.n != ''"}],
 "mark": {"type": "text", "font": "Liberation Sans", "fontSize": 16, "align": "left", "baseline": "middle", "dx": -12, "dy": 15, "color": "#000"},
 "encoding": {"y": {"field": "z", "type": "quantitative", "title": null, "axis": {"values": [0,0.5,1,1.5,2,2.5,3], "format": "~g", "labelOverlap": false}}, "text": {"field": "t"}}}
]
}
],
"config": {
 "view": {"stroke": null},
 "axis": {"grid": false, "domainColor": "#000", "tickColor": "#000", "labelColor": "#000", "titleColor": "#000"},
 "axisX": {"domainWidth": 2, "tickWidth": 1.5, "tickSize": 5},
 "axisY": {"domainWidth": 2, "tickWidth": 1.5, "tickSize": 7, "labelFont": "Lato", "labelFontSize": 17, "labelPadding": 12, "titleFont": "Lato", "titleFontSize": 15.5, "titleFontWeight": "normal", "titlePadding": 13},
 "title": {"font": "DejaVu Sans", "fontSize": 15, "fontWeight": "bold", "anchor": "start", "frame": "group", "color": "#000", "offset": 10},
 "legend": {"symbolType": "square", "symbolSize": 90, "symbolOpacity": 1, "symbolStrokeWidth": 0, "labelFont": "Liberation Sans", "labelFontSize": 17, "labelColor": "#000", "columnPadding": 6, "labelOffset": 4}
}
}
